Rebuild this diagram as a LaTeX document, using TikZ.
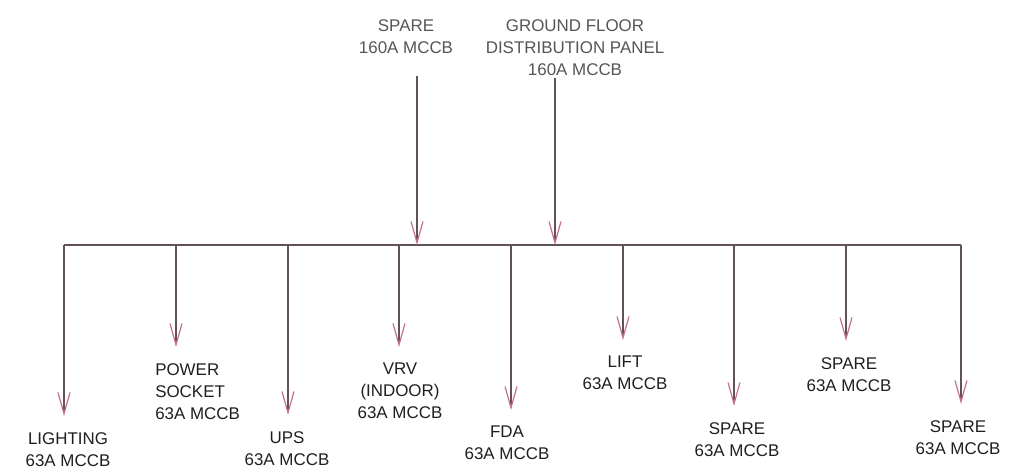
\documentclass[tikz,border=0pt]{standalone}
\usepackage{fontspec}
\setmainfont{Liberation Sans}
\usetikzlibrary{arrows.meta,positioning}

\definecolor{wire}{RGB}{96,82,88}
\definecolor{tipred}{RGB}{196,112,140}
\definecolor{toptext}{RGB}{85,85,85}

\begin{document}
\begin{tikzpicture}[x=0.75pt,y=-0.75pt,
  feed/.style={draw=wire,line width=0.9pt,-{Straight Barb[length=16pt,width=9pt,color=tipred,line width=0.9pt]}},
  bus/.style={draw=wire,line width=0.9pt},
  lbl/.style={font=\fontsize{12.7}{16.5}\selectfont,align=center,inner sep=0pt,text=black!88},
  inlbl/.style={lbl,text=toptext}]
\useasboundingbox (0,0) rectangle (1012,473);

% incomers
\node[inlbl,anchor=north] (spin) at (406,19) {SPARE\\160A MCCB};
\node[inlbl,anchor=north] (gfdp) at (575,19) {GROUND FLOOR\\DISTRIBUTION PANEL\\160A MCCB};
\coordinate (inA) at (417,245);
\coordinate (inB) at (555,245);

% outgoing labels
\node[lbl,anchor=north] (light) at (68,432) {LIGHTING\\63A MCCB};
\node[lbl,anchor=north west,align=left] (psock) at (155,363) {POWER\\SOCKET\\63A MCCB};
\node[lbl,anchor=north] (ups) at (287,431) {UPS\\63A MCCB};
\node[lbl,anchor=north] (vrv) at (400,363) {VRV\\(INDOOR)\\63A MCCB};
\node[lbl,anchor=north] (fda) at (507,426) {FDA\\63A MCCB};
\node[lbl,anchor=north] (lift) at (625,356) {LIFT\\63A MCCB};
\node[lbl,anchor=north] (spa) at (737,422) {SPARE\\63A MCCB};
\node[lbl,anchor=north] (spb) at (849,357) {SPARE\\63A MCCB};
\node[lbl,anchor=north] (spc) at (958,420) {SPARE\\63A MCCB};

% busbar tap points
\coordinate (j1) at (64,245);
\coordinate (j2) at (176,245);
\coordinate (j3) at (288,245);
\coordinate (j4) at (399,245);
\coordinate (j5) at (511,245);
\coordinate (j6) at (623,245);
\coordinate (j7) at (734,245);
\coordinate (j8) at (846,245);
\coordinate (j9) at (961,245);

\draw[bus] (j1) -- (j9);

\draw[feed] (inA |- spin.south) ++(0,22) -- (inA);
\draw[feed] (inB |- gfdp.south) ++(0,2) -- (inB);

\foreach \j/\n in {j1/light,j2/psock,j3/ups,j4/vrv,j5/fda,j6/lift,j7/spa,j8/spb,j9/spc}
  \draw[feed,shorten >=12pt] (\j) -- (\j |- \n.north);
\end{tikzpicture}
\end{document}
